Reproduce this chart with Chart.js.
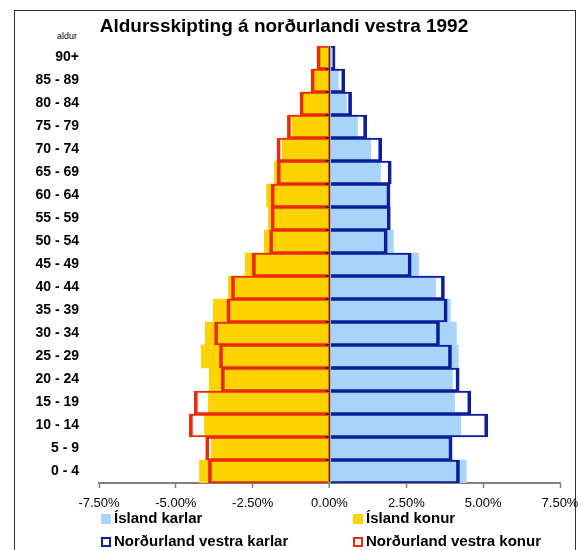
<!DOCTYPE html>
<html>
<head>
<meta charset="utf-8">
<script src="https://cdn.jsdelivr.net/npm/chart.js@4"></script>
<style>
  body { margin: 0; width: 578px; height: 550px; overflow: hidden; background: #fff; font-family: "Liberation Sans", Arial, sans-serif; }
  #frame { position: absolute; left: 14px; top: 10px; width: 562px; height: 560px; border: 1.5px solid #333; box-sizing: border-box; }
  #title { position: absolute; left: 0; width: 568px; top: 15px; text-align: center; font-size: 19px; font-weight: bold; line-height: 22px; }
  #aldur { position: absolute; left: 57px; top: 31px; font-size: 9px; line-height: 10px; }
  .leg { position: absolute; font-size: 15px; font-weight: bold; line-height: 18px; white-space: nowrap; }
  .sw { display: inline-block; width: 10px; height: 10px; margin-right: 3px; box-sizing: border-box; vertical-align: -1px; }
  #wrap { position: absolute; left: 0; top: 0; width: 578px; height: 550px; }
</style>
</head>
<body>
<div id="frame"></div>
<div id="wrap"><canvas id="chart" width="578" height="550"></canvas></div>
<div id="title">Aldursskipting á norðurlandi vestra 1992</div>
<div id="aldur">aldur</div>
<div class="leg" style="left:101px;top:509px"><span class="sw" style="background:#a9d5fd"></span>Ísland karlar</div>
<div class="leg" style="left:353px;top:509px"><span class="sw" style="background:#ffd300"></span>Ísland konur</div>
<div class="leg" style="left:101px;top:532px"><span class="sw" style="border:2px solid #0c1e9c"></span>Norðurland vestra karlar</div>
<div class="leg" style="left:353px;top:532px"><span class="sw" style="border:2px solid #eb2a0c"></span>Norðurland vestra konur</div>
<script>
/* ========= DATA (% of population, top row first) ========= */
const ageGroups = ["90+", "85 - 89", "80 - 84", "75 - 79", "70 - 74", "65 - 69", "60 - 64", "55 - 59", "50 - 54",
  "45 - 49", "40 - 44", "35 - 39", "30 - 34", "25 - 29", "20 - 24", "15 - 19", "10 - 14", "5 - 9", "0 - 4"];

const islandKarlar = [0.09, 0.29, 0.55, 0.91, 1.34, 1.66, 1.90, 1.93, 2.08, 2.90, 3.45, 3.93, 4.13, 4.19, 4.00, 4.07, 4.27, 3.91, 4.45];
const islandKonur  = [0.30, 0.54, 0.87, 1.22, 1.54, 1.79, 2.05, 1.99, 2.12, 2.74, 3.29, 3.78, 4.04, 4.17, 3.91, 3.94, 4.07, 3.84, 4.23];
const nvKarlar     = [0.18, 0.50, 0.72, 1.21, 1.70, 2.01, 1.97, 1.98, 1.88, 2.66, 3.74, 3.83, 3.58, 3.97, 4.22, 4.60, 5.15, 3.99, 4.23];
const nvKonur      = [0.41, 0.60, 0.96, 1.37, 1.71, 1.70, 1.90, 1.90, 1.95, 2.51, 3.19, 3.34, 3.74, 3.58, 3.52, 4.40, 4.56, 4.03, 3.94];

const xTicks = [-7.5, -5, -2.5, 0, 2.5, 5, 7.5];

/* ========= CHART ========= */
const neg = a => a.map(v => -v);

function filled(label, data, color) {
  return {
    label, data,
    backgroundColor: color,
    borderWidth: 0,
    grouped: false,
    order: 2,
    barPercentage: 1,
    categoryPercentage: 1
  };
}

function outline(label, data, color) {
  return {
    label, data,
    backgroundColor: "rgba(0,0,0,0)",
    borderColor: color,
    borderWidth: { top: 1.5, bottom: 1.5, left: 3, right: 3 },
    borderSkipped: "start",
    grouped: false,
    order: 1,
    barPercentage: 1,
    categoryPercentage: 1
  };
}

// small category tick marks on the zero line
const zeroTicks = {
  id: "zeroTicks",
  afterDatasetsDraw(chart) {
    const { ctx, scales: { x, y } } = chart;
    const x0 = x.getPixelForValue(0);
    const half = (y.getPixelForValue(1) - y.getPixelForValue(0)) / 2;
    ctx.save();
    ctx.strokeStyle = "#222";
    ctx.lineWidth = 1.5;
    for (let i = 1; i < ageGroups.length; i++) {
      const yy = y.getPixelForValue(i) - half;
      ctx.beginPath();
      ctx.moveTo(x0 - 4, yy);
      ctx.lineTo(x0, yy);
      ctx.stroke();
    }
    ctx.restore();
  }
};

new Chart(document.getElementById("chart"), {
  type: "bar",
  data: {
    labels: ageGroups,
    datasets: [
      filled("Ísland karlar", islandKarlar, "#a9d5fd"),
      filled("Ísland konur", neg(islandKonur), "#ffd300"),
      outline("Norðurland vestra karlar", nvKarlar, "#0c1e9c"),
      outline("Norðurland vestra konur", neg(nvKonur), "#eb2a0c")
    ]
  },
  plugins: [zeroTicks],
  options: {
    indexAxis: "y",
    responsive: false,
    animation: false,
    layout: { padding: { left: 14, right: 18, top: 46, bottom: 0 } },
    plugins: { legend: { display: false }, tooltip: { enabled: false } },
    scales: {
      x: {
        min: -7.5, max: 7.5,
        z: 1,
        afterBuildTicks: s => { s.ticks = xTicks.map(v => ({ value: v })); },
        afterFit: s => { s.height = 67; s.paddingLeft = 0; s.paddingRight = 0; },
        border: { color: "#808080", width: 2 },
        grid: {
          color: c => c.tick && c.tick.value === 0 ? "#7d1a0e" : "rgba(0,0,0,0)",
          lineWidth: c => c.tick && c.tick.value === 0 ? 2.5 : 1,
          tickColor: "#808080",
          tickLength: 5,
          tickWidth: 1.5
        },
        ticks: {
          color: "#000",
          padding: 8,
          maxRotation: 0,
          font: { family: "Liberation Sans", size: 13 },
          callback: v => v.toFixed(2) + "%"
        }
      },
      y: {
        stacked: false,
        afterFit: s => { s.width = 85; },
        border: { display: false },
        grid: { display: false },
        ticks: {
          color: "#000",
          padding: 12,
          font: { family: "Liberation Sans", size: 14, weight: "bold" }
        }
      }
    }
  }
});
</script>
</body>
</html>
